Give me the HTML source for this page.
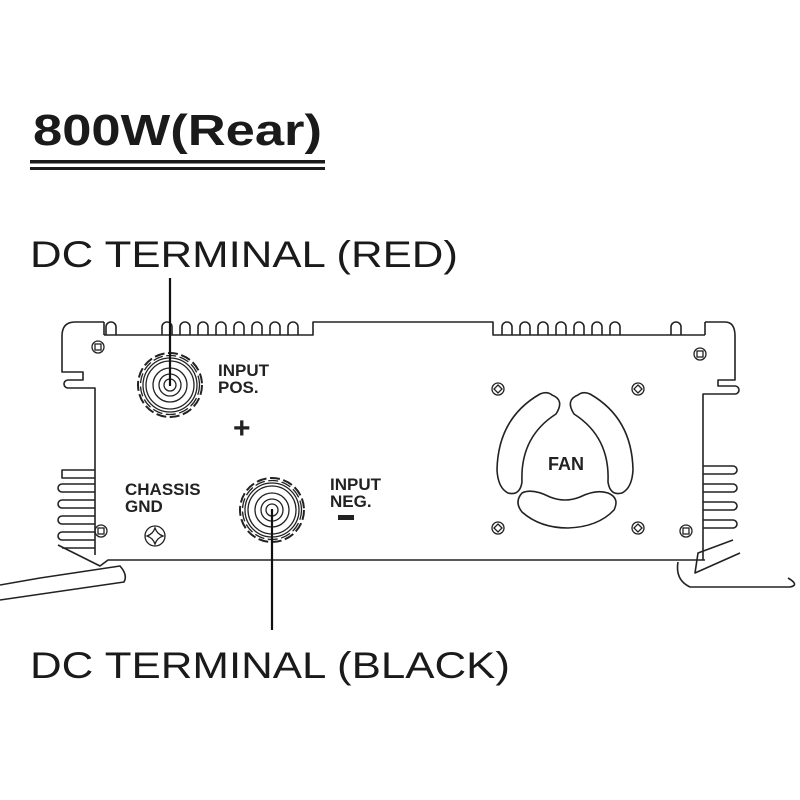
<!DOCTYPE html>
<html><head><style>html,body{margin:0;padding:0;background:#fff}svg{display:block}</style></head>
<body>
<svg width="800" height="800" viewBox="0 0 800 800" xmlns="http://www.w3.org/2000/svg">
<rect width="800" height="800" fill="#fff"/>
<g font-family="Liberation Sans, sans-serif" fill="#1a1a1a">
<text x="33" y="145" font-size="44" font-weight="bold" textLength="289" lengthAdjust="spacingAndGlyphs">800W(Rear)</text>
<text x="30" y="267" font-size="37" textLength="428" lengthAdjust="spacingAndGlyphs">DC TERMINAL (RED)</text>
<text x="30" y="678" font-size="37" textLength="480" lengthAdjust="spacingAndGlyphs">DC TERMINAL (BLACK)</text>
</g>
<rect x="30" y="160" width="295" height="3.5" fill="#1a1a1a"/>
<rect x="30" y="167" width="295" height="3" fill="#1a1a1a"/>

<g fill="none" stroke="#222" stroke-width="1.6" stroke-linejoin="round">
<path d="M104,335 L313,335 L313,322 L493,322 L493,335 L705,335"/>
<path d="M106,335 v-8 a5,5 0 0 1 10,0 v8"/>
<g>
<path d="M162,335 v-8 a5,5 0 0 1 10,0 v8"/>
<path d="M180,335 v-8 a5,5 0 0 1 10,0 v8"/>
<path d="M198,335 v-8 a5,5 0 0 1 10,0 v8"/>
<path d="M216,335 v-8 a5,5 0 0 1 10,0 v8"/>
<path d="M234,335 v-8 a5,5 0 0 1 10,0 v8"/>
<path d="M252,335 v-8 a5,5 0 0 1 10,0 v8"/>
<path d="M270,335 v-8 a5,5 0 0 1 10,0 v8"/>
<path d="M288,335 v-8 a5,5 0 0 1 10,0 v8"/>
</g>
<g transform="translate(340,0)">
<path d="M162,335 v-8 a5,5 0 0 1 10,0 v8"/>
<path d="M180,335 v-8 a5,5 0 0 1 10,0 v8"/>
<path d="M198,335 v-8 a5,5 0 0 1 10,0 v8"/>
<path d="M216,335 v-8 a5,5 0 0 1 10,0 v8"/>
<path d="M234,335 v-8 a5,5 0 0 1 10,0 v8"/>
<path d="M252,335 v-8 a5,5 0 0 1 10,0 v8"/>
<path d="M270,335 v-8 a5,5 0 0 1 10,0 v8"/>
</g>
<path d="M671,335 v-8 a5,5 0 0 1 10,0 v8"/>
<path d="M104,322 L75,322 Q62,322 62,336 L62,372 L83,372 L83,380 L68,380 a4,4 0 0 0 0,8 L95,388 L95,555"/>
<path d="M104,322 L104,335"/>
<path d="M95,470 L62,470 L62,478 L95,478 M95,484 L62,484 a4,4 0 0 0 0,8 L95,492 M95,500 L62,500 a4,4 0 0 0 0,8 L95,508 M95,516 L62,516 a4,4 0 0 0 0,8 L95,524 M95,532 L62,532 a4,4 0 0 0 0,8 L95,540"/>
<path d="M58,545 L100,566 L108,560 L705,560"/>
<path d="M95,548 L62,548"/>
<path d="M0,585 L40,578 L120,566 Q128,575 124,582 L0,600"/>
<path d="M705,322 L725,322 Q735,322 735,336 L735,380 L718,380 L718,386 L735,386 a4,4 0 0 1 0,8 L703,394 L703,560"/>
<path d="M705,322 L705,335"/>
<path d="M703,466 L733,466 a4,4 0 0 1 0,8 L703,474 M703,484 L733,484 a4,4 0 0 1 0,8 L703,492 M703,502 L733,502 a4,4 0 0 1 0,8 L703,510 M703,520 L733,520 a4,4 0 0 1 0,8 L703,528"/>
<path d="M733,540 L698,553 L695,573 L740,553"/>
<path d="M678,562 Q675,580 690,587 L790,587 Q800,585 788,578"/>
<path d="M552,395 Q565,400 556,414 Q520,437 522,482 Q520,496 508,493 Q498,488 497,470 Q498,418 540,394 Q547,391 552,395 Z"/>
<path d="M578,395 Q565,400 574,414 Q610,437 608,482 Q610,496 622,493 Q632,488 633,470 Q632,418 590,394 Q583,391 578,395 Z"/>
<path d="M522,493 Q514,502 522,512 Q540,528 568,528 Q598,527 614,510 Q620,498 608,493 Q596,489 580,497 Q565,503 550,497 Q532,488 522,493 Z"/>
</g>
<g fill="none" stroke="#222" stroke-width="1.3">
<circle cx="98" cy="347" r="6"/><rect x="95" y="344" width="6" height="6"/>
<circle cx="700" cy="354" r="6"/><rect x="697" y="351" width="6" height="6"/>
<circle cx="101" cy="531" r="6"/><rect x="98" y="528" width="6" height="6"/>
<circle cx="686" cy="531" r="6"/><rect x="683" y="528" width="6" height="6"/>
<circle cx="498" cy="389" r="6"/><path d="M498,385 L502,389 L498,393 L494,389 Z"/>
<circle cx="638" cy="389" r="6"/><path d="M638,385 L642,389 L638,393 L634,389 Z"/>
<circle cx="498" cy="528" r="6"/><path d="M498,524 L502,528 L498,532 L494,528 Z"/>
<circle cx="638" cy="528" r="6"/><path d="M638,524 L642,528 L638,532 L634,528 Z"/>
<circle cx="155" cy="536" r="10"/><path d="M155,528 Q157,534 163,536 Q157,538 155,544 Q153,538 147,536 Q153,534 155,528 Z"/>
<g transform="translate(170,385)">
<circle r="32" stroke-dasharray="10 3.5" stroke-width="2"/>
<circle r="29.5" stroke-dasharray="10 3.5"/>
<circle r="27"/><circle r="24"/><circle r="17"/><circle r="11"/><circle r="6"/>
</g>
<g transform="translate(272,510)">
<circle r="32" stroke-dasharray="10 3.5" stroke-width="2"/>
<circle r="29.5" stroke-dasharray="10 3.5"/>
<circle r="27"/><circle r="24"/><circle r="17"/><circle r="11"/><circle r="6"/>
</g>
</g>
<g stroke="#111" stroke-width="2.2">
<line x1="170" y1="278" x2="170" y2="386"/>
<line x1="272" y1="509" x2="272" y2="630"/>
</g>
<g font-family="Liberation Sans, sans-serif" font-weight="bold" fill="#222" font-size="17">
<text x="218" y="376">INPUT</text>
<text x="218" y="393">POS.</text>
<text x="233" y="438" font-size="30">+</text>
<text x="125" y="495">CHASSIS</text>
<text x="125" y="512">GND</text>
<text x="330" y="490">INPUT</text>
<text x="330" y="507">NEG.</text>
<text x="548" y="470" font-size="18">FAN</text>
</g>
<rect x="338" y="515" width="16" height="5" fill="#222"/>
</svg>
</body></html>
